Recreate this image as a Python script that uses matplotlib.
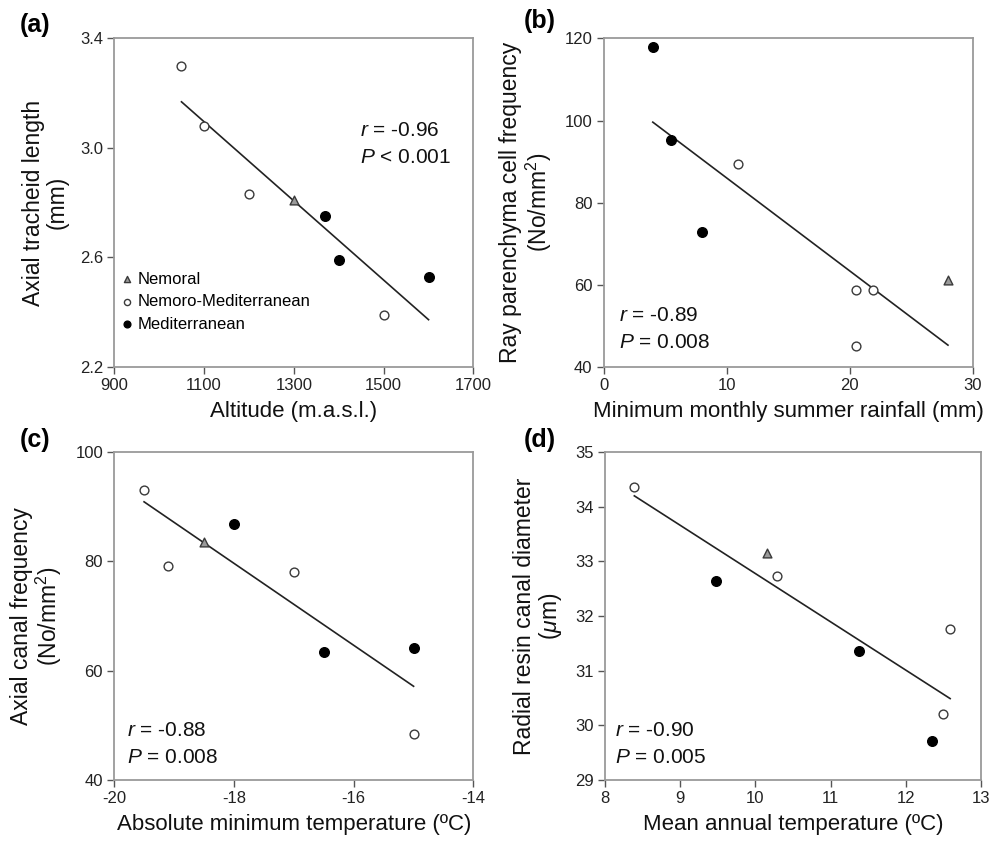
import numpy as np
from matplotlib import pyplot as plt

plt.rcParams['font.family'] = ['Liberation Sans', 'DejaVu Sans']
plt.rcParams['mathtext.fontset'] = 'custom'
plt.rcParams['mathtext.rm'] = 'Liberation Sans'
plt.rcParams['mathtext.it'] = 'Liberation Sans:italic'
plt.rcParams['axes.unicode_minus'] = False

# group of each site, same order in every panel
# (a) altitude vs axial tracheid length
alt_x = [1050, 1100, 1200, 1300, 1370, 1400, 1600, 1500]
alt_y = [3.30, 3.08, 2.83, 2.81, 2.75, 2.59, 2.53, 2.39]
alt_g = ['nm', 'nm', 'nm', 'n', 'm', 'm', 'm', 'nm']

# (b) min monthly summer rainfall vs ray parenchyma cell frequency
rain_x = [4.0, 5.5, 8.0, 10.9, 20.5, 21.9, 20.5, 28.0]
rain_y = [118.0, 95.2, 72.9, 89.4, 58.8, 58.8, 45.0, 61.3]
rain_g = ['m', 'm', 'm', 'nm', 'nm', 'nm', 'nm', 'n']

# (c) absolute min temperature vs axial canal frequency
tmin_x = [-19.5, -19.1, -18.5, -18.0, -17.0, -16.5, -15.0, -15.0]
tmin_y = [93.0, 79.1, 83.6, 86.8, 78.0, 63.4, 64.2, 48.5]
tmin_g = ['nm', 'nm', 'n', 'm', 'nm', 'm', 'm', 'nm']

# (d) mean annual temperature vs radial resin canal diameter
tmean_x = [8.39, 9.48, 10.15, 10.29, 11.38, 12.59, 12.49, 12.35]
tmean_y = [34.35, 32.64, 33.15, 32.73, 31.36, 31.76, 30.21, 29.72]
tmean_g = ['nm', 'm', 'n', 'nm', 'm', 'nm', 'nm', 'm']

stats = [('-0.96', '<', '0.001'), ('-0.89', '=', '0.008'),
         ('-0.88', '=', '0.008'), ('-0.90', '=', '0.005')]

styles = {
  'n': dict(marker='^', facecolor='#9a9a9a', edgecolor='#3a3a3a', s=40, label='Nemoral'),
  'nm': dict(marker='o', facecolor='white', edgecolor='#3a3a3a', s=40, label='Nemoro-Mediterranean'),
  'm': dict(marker='o', facecolor='black', edgecolor='black', s=48, label='Mediterranean'),
}

fig = plt.figure(figsize=(10.01, 8.47), dpi=100)
boxes = [[0.114, 0.5667, 0.359, 0.388], [0.603, 0.5667, 0.3686, 0.388],
         [0.114, 0.0791, 0.359, 0.3873], [0.6044, 0.0791, 0.3756, 0.3873]]

panels = [
  (alt_x, alt_y, alt_g, (900, 1700), np.arange(900, 1701, 200), (2.2, 3.4), [2.2, 2.6, 3.0, 3.4], '%.1f',
   'Altitude (m.a.s.l.)', 'Axial tracheid length\n(mm)'),
  (rain_x, rain_y, rain_g, (0, 30), [0, 10, 20, 30], (40, 120), [40, 60, 80, 100, 120], '%d',
   'Minimum monthly summer rainfall (mm)', 'Ray parenchyma cell frequency\n(No/mm$^2$)'),
  (tmin_x, tmin_y, tmin_g, (-20, -14), [-20, -18, -16, -14], (40, 100), [40, 60, 80, 100], '%d',
   'Absolute minimum temperature (ºC)', 'Axial canal frequency\n(No/mm$^2$)'),
  (tmean_x, tmean_y, tmean_g, (8, 13), [8, 9, 10, 11, 12, 13], (29, 35), [29, 30, 31, 32, 33, 34, 35], '%d',
   'Mean annual temperature (ºC)', 'Radial resin canal diameter\n($\\mu$m)'),
]
letters = ['(a)', '(b)', '(c)', '(d)']
letter_pos = [(0.020, 0.970), (0.523, 0.975), (0.020, 0.480), (0.523, 0.480)]
stat_pos = [(0.685, 0.72, 0.638), (0.043, 0.158, 0.076), (0.036, 0.152, 0.07), (0.027, 0.152, 0.07)]

for k in range(4):
  xs, ys, gs, xl, xt, yl, yt, fmt, xlab, ylab = panels[k]
  ax = fig.add_axes(boxes[k])
  xs = np.array(xs); ys = np.array(ys); gs = np.array(gs)
  # regression line
  b1, b0 = np.polyfit(xs, ys, 1)
  lx = np.array([xs.min(), xs.max()])
  ax.plot(lx, b0 + b1*lx, color='#222222', lw=1.2, zorder=2)
  for g in ['n', 'nm', 'm']:
    st = styles[g]
    sel = gs == g
    ax.scatter(xs[sel], ys[sel], marker=st['marker'], facecolor=st['facecolor'],
               edgecolor=st['edgecolor'], s=st['s'], linewidths=1.0, zorder=3, label=st['label'])
  ax.set_xlim(xl); ax.set_ylim(yl)
  ax.set_xticks(xt); ax.set_yticks(yt)
  ax.set_yticklabels([fmt % v for v in yt])
  for sp in ax.spines.values():
    sp.set_color('#9a9a9a'); sp.set_linewidth(1.3)
  ax.tick_params(direction='out', length=5, width=1.0, color='#555555', labelsize=12,
                 labelcolor='#222222', pad=3)
  ax.set_xlabel(xlab, fontsize=16, color='#111111', labelpad=6)
  ax.set_ylabel(ylab, fontsize=16.5, color='#111111', labelpad=8, linespacing=1.05)
  r, op, p = stats[k]
  sx, ry, py = stat_pos[k]
  ax.text(sx, ry, '$r$ = ' + r, transform=ax.transAxes, fontsize=15, va='center', color='#111111')
  ax.text(sx, py, '$P$ ' + op + ' ' + p, transform=ax.transAxes, fontsize=15, va='center', color='#111111')
  fig.text(letter_pos[k][0], letter_pos[k][1], letters[k], fontsize=18, fontweight='bold', va='center')
  if k == 0:
    h, l = ax.get_legend_handles_labels()
    ax.legend(h, l, loc='upper left', bbox_to_anchor=(0.012, 0.29), frameon=False, fontsize=12,
              handletextpad=0.15, handlelength=1.0, labelspacing=0.45, borderpad=0, borderaxespad=0,
              markerscale=0.7)

fig.savefig('out.png', dpi=100)
